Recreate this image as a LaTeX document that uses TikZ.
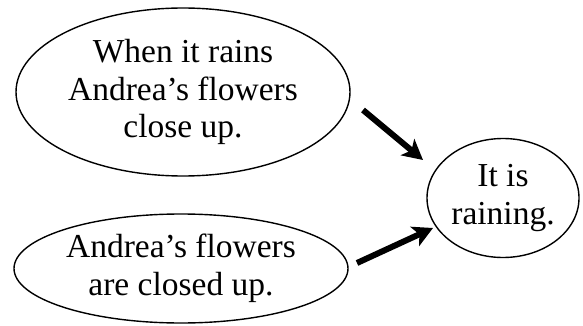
\documentclass[tikz,border=0pt]{standalone}
\usepackage{fontspec}
\setmainfont{Liberation Serif}
\usetikzlibrary{shapes.geometric,arrows.meta}
\tikzset{
  claim/.style={draw, ellipse, line width=1.4pt, inner sep=0pt, align=center,
    font=\fontsize{33.5}{37.5}\selectfont},
  infer/.style={line width=6pt, -{Stealth[length=20pt, width=21pt, inset=5pt]}}
}
\begin{document}
\begin{tikzpicture}[x=1pt, y=-1pt]
  \useasboundingbox (0,0) rectangle (583,326);
  % premises and conclusion
  \node[claim, minimum width=334pt, minimum height=168pt] (rule) at (183,92)
    {When it rains\\Andrea’s flowers\\close up.};
  \node[claim, minimum width=334pt, minimum height=109pt] (obs) at (181,268.5)
    {Andrea’s flowers\\are closed up.};
  \node[claim, minimum width=152pt, minimum height=119pt] (concl) at (503,198)
    {It is\\raining.};
  % arrow end points
  \coordinate (a1s) at (363,110);
  \coordinate (a1e) at (423,160);
  \coordinate (a2s) at (357,263);
  \coordinate (a2e) at (433,228);
  \draw[infer] (a1s) -- (a1e);
  \draw[infer] (a2s) -- (a2e);
\end{tikzpicture}
\end{document}
